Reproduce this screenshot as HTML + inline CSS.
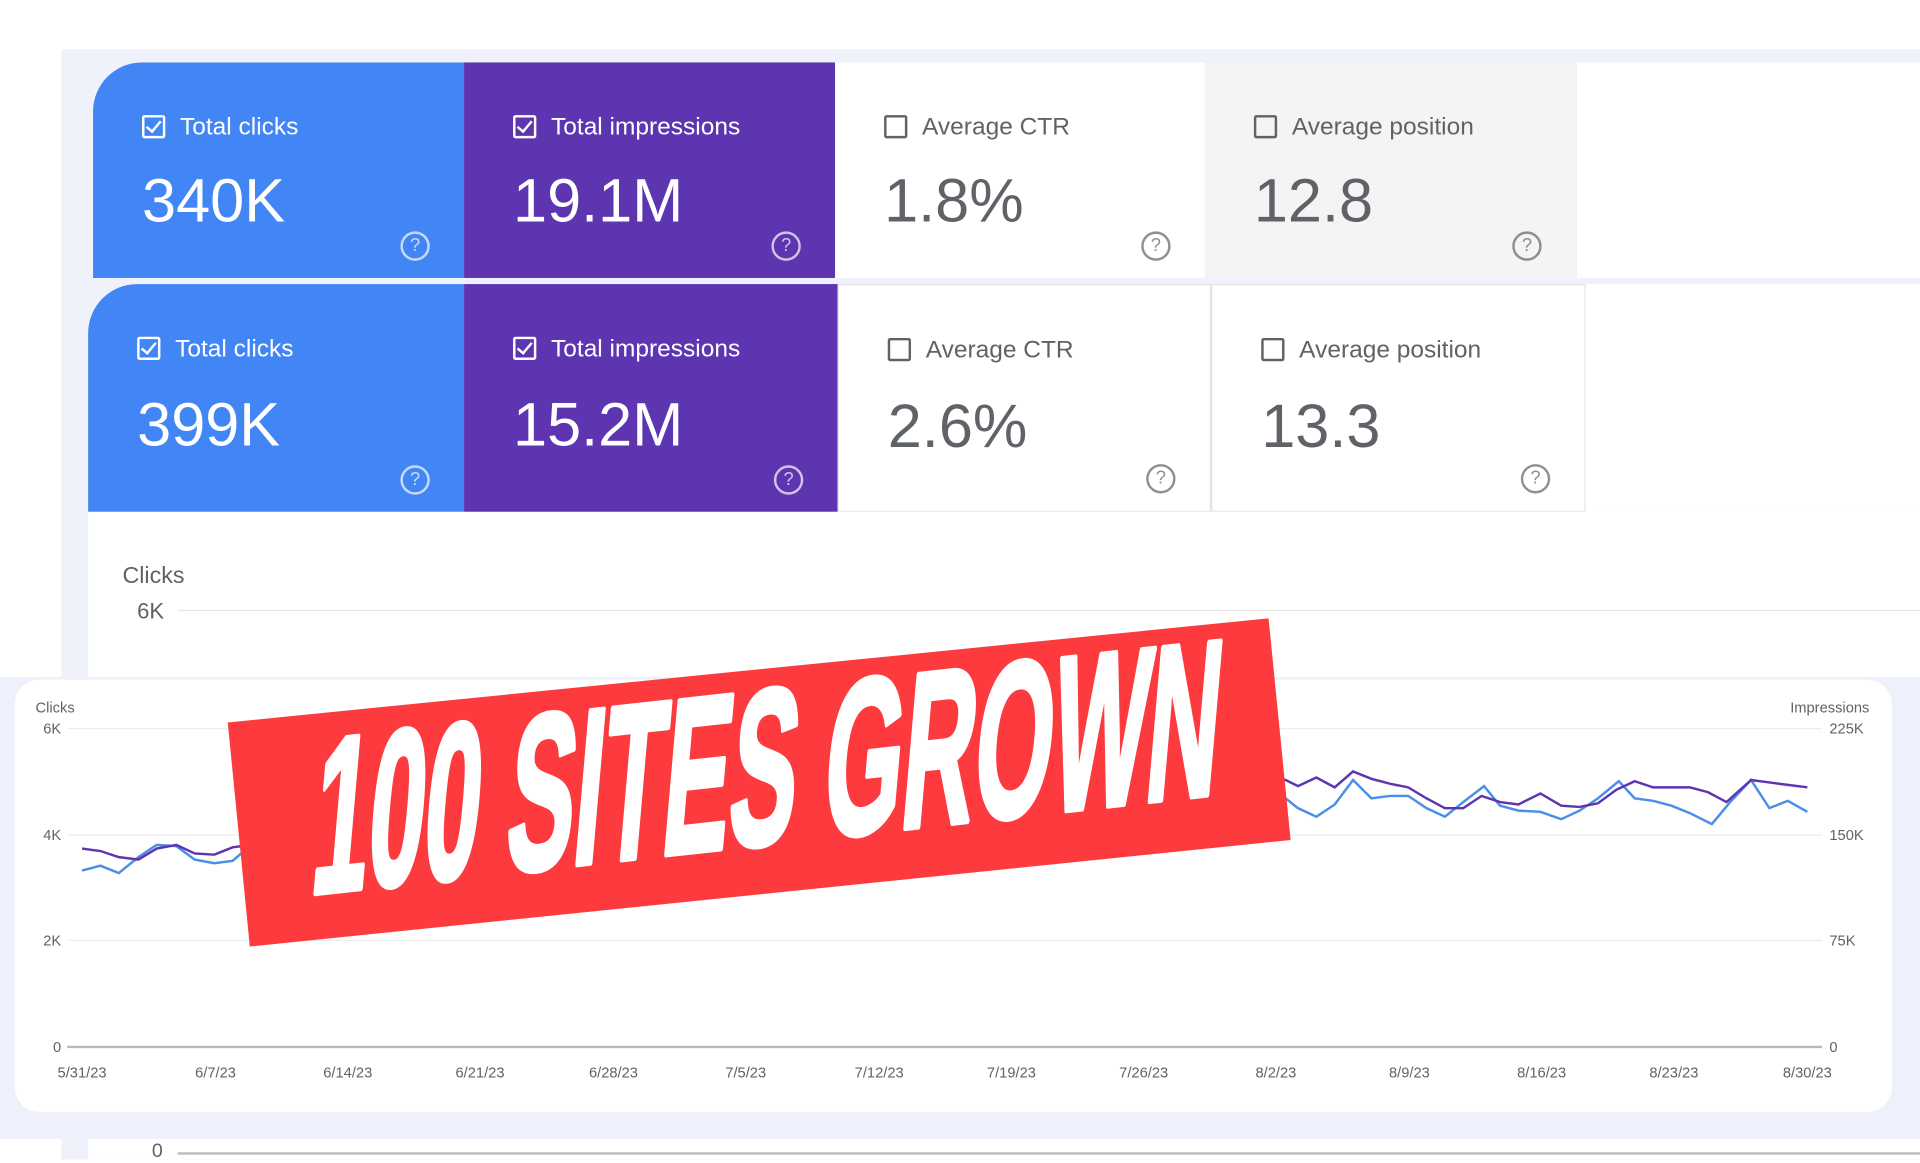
<!DOCTYPE html>
<html><head><meta charset="utf-8">
<style>
html,body{margin:0;padding:0;background:#fff;overflow:hidden;width:1920px;height:1160px}
#r{position:absolute;left:0;top:0;width:1568px;height:947px;transform:scale(1.22449);transform-origin:0 0;font-family:"Liberation Sans",Arial,sans-serif}
.a{position:absolute}
.card{position:absolute;box-sizing:border-box}
.t{position:absolute;left:40px;top:42px;font-size:20px;white-space:nowrap}
.v{position:absolute;left:40px;top:84px;font-size:50px;white-space:nowrap}
.cb{display:inline-block;width:19px;height:19px;border:2px solid currentColor;border-radius:2px;box-sizing:border-box;vertical-align:-3px;margin-right:12px;position:relative}
.cb.k:after{content:"";position:absolute;left:4px;top:0px;width:5px;height:10px;border:solid currentColor;border-width:0 2px 2px 0;transform:rotate(40deg)}
.q{position:absolute;right:28px;bottom:14px;width:20px;height:20px;border:2px solid currentColor;border-radius:50%;font-size:15px;text-align:center;line-height:20px;opacity:.7}
</style></head><body><div id="r">
<div class="a" style="left:50px;top:40px;width:1518px;height:907px;background:#f0f2fb"></div>
<div class="card" style="left:76px;top:51px;width:303px;height:176px;background:#4285f4;color:#fff;border-top-left-radius:40px"><div class="t"><span class="cb k"></span>Total clicks</div><div class="v">340K</div><div class="q">?</div></div>
<div class="card" style="left:379px;top:51px;width:303px;height:176px;background:#5e35b1;color:#fff"><div class="t"><span class="cb k"></span>Total impressions</div><div class="v">19.1M</div><div class="q">?</div></div>
<div class="card" style="left:682px;top:51px;width:302px;height:176px;background:#fff;color:#5f6368"><div class="t"><span class="cb"></span>Average CTR</div><div class="v">1.8%</div><div class="q">?</div></div>
<div class="card" style="left:984px;top:51px;width:303px;height:176px;background:#f4f4f4;color:#5f6368"><div class="t"><span class="cb"></span>Average position</div><div class="v">12.8</div><div class="q">?</div></div>
<div class="card" style="left:1288px;top:51px;width:280px;height:176px;background:#fff"></div>
<div class="card" style="left:72px;top:232px;width:307px;height:186px;background:#4285f4;color:#fff;border-top-left-radius:40px"><div class="t" style="top:42px"><span class="cb k"></span>Total clicks</div><div class="v" style="top:86px">399K</div><div class="q">?</div></div>
<div class="card" style="left:379px;top:232px;width:305px;height:186px;background:#5e35b1;color:#fff"><div class="t" style="top:42px"><span class="cb k"></span>Total impressions</div><div class="v" style="top:86px">15.2M</div><div class="q">?</div></div>
<div class="card" style="left:684px;top:232px;width:305px;height:186px;background:#fff;color:#5f6368;border:1px solid #e4e4e4"><div class="t" style="top:42px"><span class="cb"></span>Average CTR</div><div class="v" style="top:86px">2.6%</div><div class="q">?</div></div>
<div class="card" style="left:989px;top:232px;width:306px;height:186px;background:#fff;color:#5f6368;border:1px solid #e4e4e4"><div class="t" style="top:42px"><span class="cb"></span>Average position</div><div class="v" style="top:86px">13.3</div><div class="q">?</div></div>
<div class="card" style="left:1295px;top:232px;width:273px;height:186px;background:#fff"></div>
<div class="a" style="left:72px;top:418px;width:1496px;height:135px;background:#fff"></div>
<div class="a" style="left:100px;top:460px;font-size:19px;color:#5f6368">Clicks</div>
<div class="a" style="left:112px;top:489px;font-size:18px;color:#5f6368">6K</div>
<div class="a" style="left:145px;top:498px;width:1423px;height:1px;background:#e6e6e6"></div>
<div class="a" style="left:72px;top:930px;width:1496px;height:17px;background:#fff"></div>
<div class="a" style="left:124px;top:932px;font-size:16px;color:#5f6368">0</div>
<div class="a" style="left:145px;top:941px;width:1423px;height:2px;background:#bdbdbd"></div>
<div class="a" style="left:0;top:553px;width:1568px;height:377px;background:#eef0fb"></div>
<div class="a" style="left:12px;top:555px;width:1533px;height:353px;background:#fff;border-radius:20px"></div>
<svg class="a" style="left:0;top:0" width="1568" height="947" font-family="Liberation Sans,Arial,sans-serif">
<g fill="#5f6368" font-size="12">
<text x="29" y="582">Clicks</text><text x="1462" y="582">Impressions</text>
<text x="50" y="599" text-anchor="end">6K</text><text x="50" y="686" text-anchor="end">4K</text><text x="50" y="772" text-anchor="end">2K</text><text x="50" y="859" text-anchor="end">0</text>
<text x="1494" y="599">225K</text><text x="1494" y="686">150K</text><text x="1494" y="772">75K</text><text x="1494" y="859">0</text>
<g text-anchor="middle">
<text x="67" y="880">5/31/23</text><text x="176" y="880">6/7/23</text><text x="284" y="880">6/14/23</text><text x="392" y="880">6/21/23</text><text x="501" y="880">6/28/23</text><text x="609" y="880">7/5/23</text><text x="718" y="880">7/12/23</text><text x="826" y="880">7/19/23</text><text x="934" y="880">7/26/23</text><text x="1042" y="880">8/2/23</text><text x="1151" y="880">8/9/23</text><text x="1259" y="880">8/16/23</text><text x="1367" y="880">8/23/23</text><text x="1476" y="880">8/30/23</text>
</g></g>
<g stroke="#ececec" stroke-width="1"><line x1="55" y1="595" x2="1488" y2="595"/><line x1="55" y1="682" x2="1488" y2="682"/><line x1="55" y1="768" x2="1488" y2="768"/></g>
<line x1="55" y1="855" x2="1488" y2="855" stroke="#b8b8b8" stroke-width="2"/>
<polyline fill="none" stroke="#4a8fe7" stroke-width="2" points="67,711 82,707 97,713 113,700 128,690 144,691 159,702 175,705 190,703 205,690 250,672 300,676 350,668 400,680 450,670 500,676 550,660 600,666 650,658 700,650 750,662 800,648 850,655 900,640 950,642 1000,632 1030,640 1050,652 1060,660 1075,667 1090,657 1105,637 1120,652 1135,650 1150,650 1165,660 1180,667 1195,655 1212,642 1225,658 1240,662 1258,663 1275,669 1290,662 1305,652 1322,638 1335,652 1350,654 1365,658 1380,664 1398,673 1413,655 1430,637 1445,660 1460,654 1476,663"/>
<polyline fill="none" stroke="#5e35b1" stroke-width="2" points="67,693 82,695 97,700 113,702 128,693 144,690 159,697 175,698 190,692 205,690 250,668 300,672 350,662 400,672 450,664 500,668 550,654 600,660 650,650 700,644 750,654 800,642 850,648 900,634 950,636 1000,628 1030,632 1050,637 1060,642 1075,635 1090,643 1105,630 1120,636 1135,640 1150,643 1165,652 1180,660 1195,660 1210,650 1225,655 1240,657 1258,648 1275,658 1290,659 1305,656 1320,645 1335,638 1350,643 1365,643 1380,643 1395,647 1410,655 1430,637 1445,639 1460,641 1476,643"/>
<polygon points="186,590 1036,505 1054,686 204,773" fill="#fd3a3e"/>
<text transform="translate(252,730) skewY(-6.3) skewX(-5)" font-family="Liberation Sans Narrow,Liberation Sans,sans-serif" font-weight="bold" font-size="180" fill="#fff" stroke="#fff" stroke-width="5" stroke-linejoin="round" textLength="740" lengthAdjust="spacingAndGlyphs">100 SITES GROWN</text>
</svg>
</div></body></html>
